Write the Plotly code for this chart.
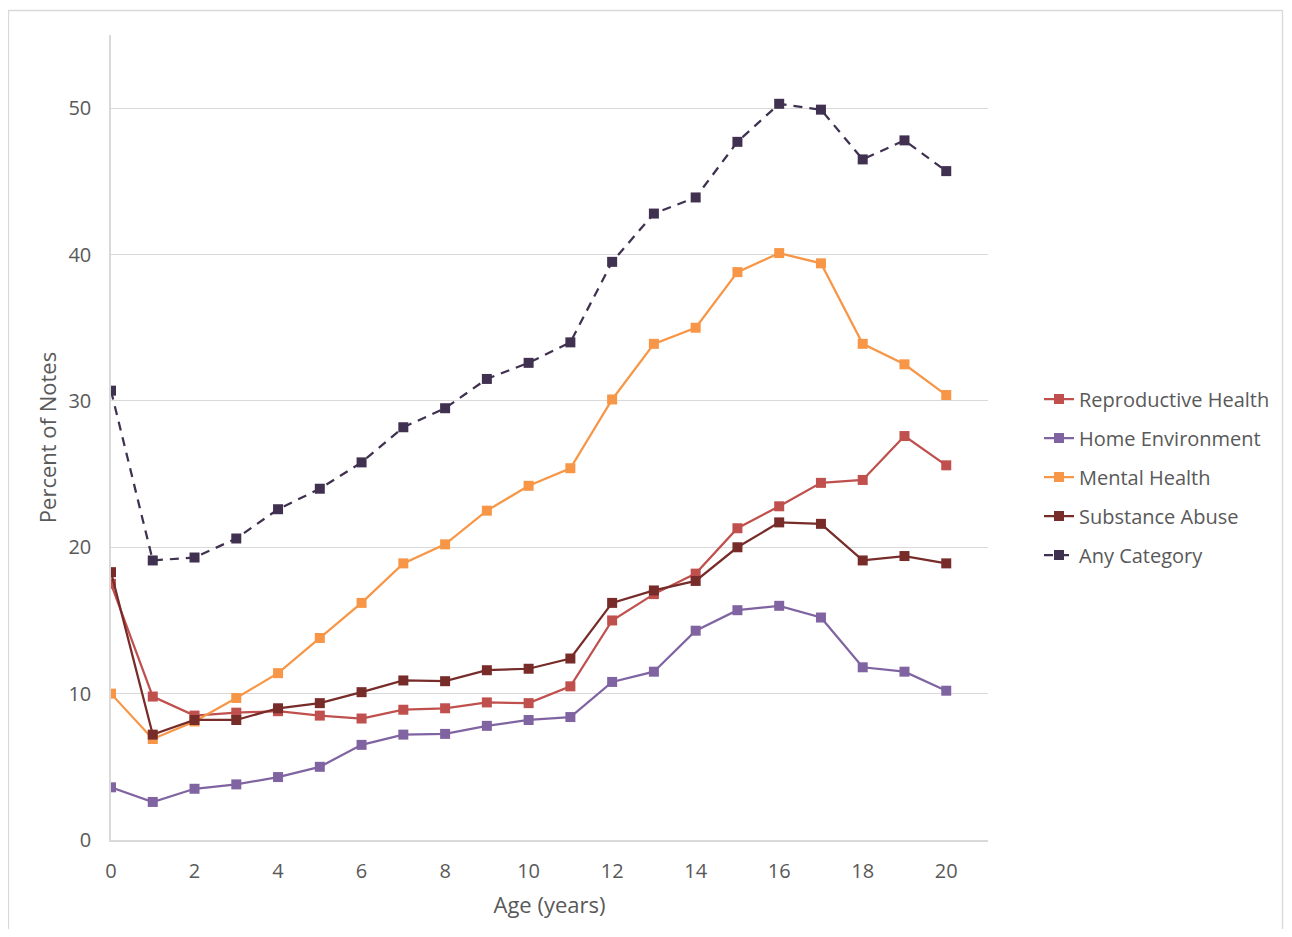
import plotly.graph_objects as go

ages = list(range(0, 21))
reproductive = [17.5, 9.8, 8.5, 8.7, 8.8, 8.5, 8.3, 8.9, 9.0, 9.4, 9.35, 10.5, 15.0, 16.8, 18.2, 21.3, 22.8, 24.4, 24.6, 27.6, 25.6]
home_env = [3.6, 2.6, 3.5, 3.8, 4.3, 5.0, 6.5, 7.2, 7.25, 7.8, 8.2, 8.4, 10.8, 11.5, 14.3, 15.7, 16.0, 15.2, 11.8, 11.5, 10.2]
mental = [10.0, 6.9, 8.1, 9.7, 11.4, 13.8, 16.2, 18.9, 20.2, 22.5, 24.2, 25.4, 30.1, 33.9, 35.0, 38.8, 40.1, 39.4, 33.9, 32.5, 30.4]
substance = [18.3, 7.2, 8.2, 8.2, 9.0, 9.35, 10.1, 10.9, 10.85, 11.6, 11.7, 12.4, 16.2, 17.05, 17.7, 20.0, 21.7, 21.6, 19.1, 19.4, 18.9]
any_cat = [30.7, 19.1, 19.3, 20.6, 22.6, 24.0, 25.8, 28.2, 29.5, 31.5, 32.6, 34.0, 39.5, 42.8, 43.9, 47.7, 50.3, 49.9, 46.5, 47.8, 45.7]

series = [
    ("Reproductive Health", reproductive, "#C0504D", "solid"),
    ("Home Environment", home_env, "#8064A2", "solid"),
    ("Mental Health", mental, "#F79646", "solid"),
    ("Substance Abuse", substance, "#772C2A", "solid"),
    ("Any Category", any_cat, "#403151", "9px,7px"),
]

fig = go.Figure()
for i, (name, vals, color, dash) in enumerate(series):
    fig.add_trace(go.Scatter(
        x=ages, y=vals, name=name, mode="lines+markers",
        legendgroup=f"g{i}",
        line=dict(color=color, width=2.25, dash=dash),
        marker=dict(symbol="square", size=10, color=color),
    ))

font_family = "Open Sans, Noto Sans, sans-serif"
gray = "#595959"
# page body has an 8px margin; figure coordinates are page coordinates minus 8
OFF = 8
W, H = 1284, 921
L, R, T, B = 111 - OFF, 988 - OFF, 35 - OFF, 840 - OFF
pw, ph = R - L, B - T

def px(xp):
    return (xp - OFF - L) / pw

def py(yp):
    return (B - (yp - OFF)) / ph

fig.update_layout(
    width=W, height=H,
    margin=dict(l=L, r=W - R, t=T, b=H - B, pad=0, autoexpand=False),
    plot_bgcolor="white", paper_bgcolor="white",
    font=dict(family=font_family, color=gray, size=20),
    showlegend=True,
    legend=dict(
        x=px(1039), xanchor="left",
        y=py(477), yanchor="middle",
        font=dict(size=20, color=gray),
        bgcolor="rgba(0,0,0,0)",
        tracegroupgap=10,
    ),
    xaxis=dict(
        range=[0, 21], tickvals=list(range(0, 21, 2)),
        showgrid=False, zeroline=False,
        showline=True, linecolor="#D9D9D9", linewidth=1.5,
        ticks="", ticklabelstandoff=12,
        tickfont=dict(size=20, color=gray),
        title=dict(text="Age (years)", font=dict(size=22, color=gray), standoff=15),
    ),
    yaxis=dict(
        range=[0, 55], tickvals=list(range(0, 51, 10)),
        showgrid=True, gridcolor="#D9D9D9", gridwidth=1.3,
        zeroline=False,
        showline=True, linecolor="#D9D9D9", linewidth=1.5,
        ticks="", ticklabelstandoff=14,
        tickfont=dict(size=20, color=gray),
        title=dict(text="Percent of Notes", font=dict(size=22, color=gray), standoff=6),
    ),
    shapes=[dict(
        type="path", xref="paper", yref="paper",
        path=(f"M {px(8.5)} {py(960)} L {px(8.5)} {py(10.5)} "
              f"L {px(1282.5)} {py(10.5)} L {px(1282.5)} {py(960)}"),
        line=dict(color="#D9D9D9", width=1.3), layer="below",
    )],
)

fig.write_html("out.html")
